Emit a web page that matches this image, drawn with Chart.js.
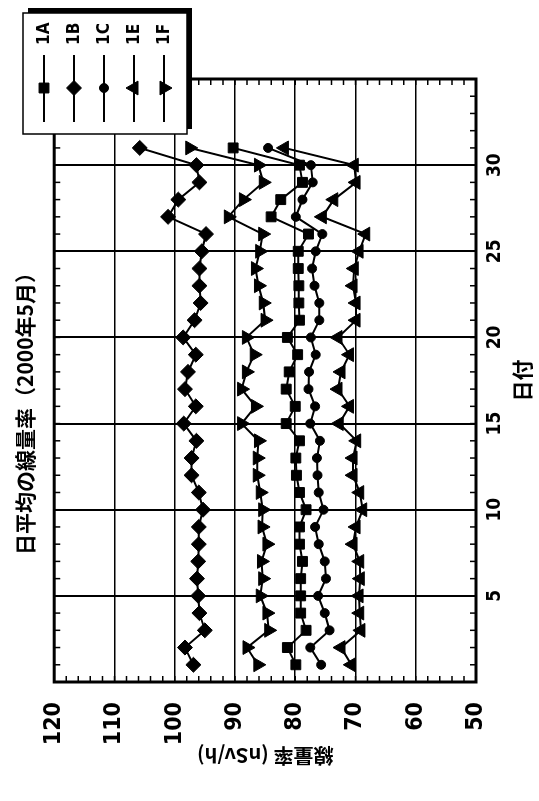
<!DOCTYPE html>
<html>
<head>
<meta charset="utf-8">
<title>日平均の線量率</title>
<script src="https://cdn.jsdelivr.net/npm/chart.js"></script>
<style>
  html, body { margin: 0; padding: 0; background: #fff; overflow: hidden; }
  /* the chart is laid out landscape and turned a quarter turn to stand in the page */
  #wrap {
    position: absolute; left: 0; top: 0;
    width: 801px; height: 539px;
    transform-origin: 0 0;
    transform: translateY(801px) rotate(-90deg);
  }
  canvas { display: block; }
</style>
</head>
<body>
<div id="wrap"><canvas id="myChart" width="801" height="539"></canvas></div>
<script>
const canvas = document.getElementById('myChart')

// daily means, May 2000 (nSv/h)
const days = [1, 2, 3, 4, 5, 6, 7, 8, 9, 10, 11, 12, 13, 14, 15, 16,
              17, 18, 19, 20, 21, 22, 23, 24, 25, 26, 27, 28, 29, 30, 31]
const labels = ['1A', '1B', '1C', '1E', '1F']
const post1A = [79.9, 81.3, 78.2, 79.1, 79.1, 79.1, 78.8, 79.3, 79.3, 78.2, 79.3,
                79.8, 79.9, 79.3, 81.5, 80.0, 81.5, 81.0, 79.6, 81.3, 79.3, 79.4,
                79.4, 79.5, 79.5, 77.8, 84.0, 82.4, 78.8, 79.3, 90.3]
const post1B = [96.9, 98.3, 95.0, 95.9, 96.1, 96.3, 96.1, 96.0, 96.0, 95.3, 96.0,
                97.2, 97.2, 96.4, 98.5, 96.5, 98.3, 97.8, 96.5, 98.6, 96.7, 95.7,
                95.9, 95.9, 95.5, 94.8, 101.1, 99.4, 95.9, 96.4, 105.8]
const post1C = [75.7, 77.5, 74.3, 75.1, 76.2, 74.9, 75.1, 76.1, 76.7, 75.3, 76.1,
                76.3, 76.4, 75.9, 77.5, 76.7, 77.8, 77.7, 76.6, 77.4, 76.0, 76.0,
                76.8, 77.2, 76.6, 75.5, 79.9, 78.8, 77.1, 77.4, 84.5]
const post1E = [70.7, 72.4, 69.1, 69.3, 69.4, 69.2, 69.3, 70.4, 69.9, 68.8, 69.3,
                70.4, 70.4, 69.8, 72.7, 71.0, 72.9, 72.4, 71.0, 72.9, 69.9, 69.9,
                70.4, 70.2, 69.4, 68.3, 75.5, 73.6, 69.9, 70.2, 81.8]
const post1F = [86.2, 88.0, 84.4, 84.7, 85.8, 85.4, 85.6, 84.7, 85.5, 85.4, 85.8,
                86.3, 86.3, 86.1, 88.9, 86.6, 88.9, 88.1, 86.8, 88.1, 85.0, 85.3,
                86.1, 86.6, 85.9, 85.4, 91.1, 88.6, 85.3, 86.1, 97.5]

const NARROW = '"Liberation Sans Narrow", "DejaVu Sans Condensed", "Liberation Sans", sans-serif'
const CJK = '"Noto Sans CJK JP", sans-serif'

Chart.defaults.color = '#000'
Chart.defaults.font.family = NARROW

function series(label, values, style, radius, rotation) {
    return {
        label,
        data: days.map((d, i) => ({x: d, y: values[i]})),
        borderColor: '#000',
        backgroundColor: '#000',
        borderWidth: 2,
        pointStyle: style,
        pointRadius: radius,
        pointRotation: rotation,
        pointBorderWidth: 1,
        tension: 0
    }
}

// minor ticks pointing inward on all four sides, plus the heavy frame
const frameTicks = {
    id: 'frameTicks',
    beforeDatasetsDraw(chart) {
        const {ctx, chartArea: a, scales: {x, y}} = chart
        ctx.save()
        ctx.strokeStyle = '#000'
        ctx.lineWidth = 1.5
        ctx.beginPath()
        for (let d = x.min; d <= x.max; d += 1) {
            const px = x.getPixelForValue(d)
            ctx.moveTo(px, a.bottom); ctx.lineTo(px, a.bottom - 6)
            ctx.moveTo(px, a.top); ctx.lineTo(px, a.top + 6)
        }
        for (let v = y.min; v <= y.max; v += 2) {
            const py = y.getPixelForValue(v)
            ctx.moveTo(a.left, py); ctx.lineTo(a.left + 6, py)
            ctx.moveTo(a.right, py); ctx.lineTo(a.right - 6, py)
        }
        ctx.stroke()
        ctx.lineWidth = 3
        ctx.strokeRect(a.left, a.top, a.right - a.left, a.bottom - a.top)
        ctx.restore()
    }
}

// boxed legend with drop shadow, drawn over the top right corner
const boxLegend = {
    id: 'boxLegend',
    afterDraw(chart) {
        const ctx = chart.ctx
        const left = 667, top = 23, w = 121, h = 164
        ctx.save()
        ctx.fillStyle = '#000'
        ctx.fillRect(left + 5, top + 5, w, h)
        ctx.fillStyle = '#fff'
        ctx.fillRect(left, top, w, h)
        ctx.strokeStyle = '#000'
        ctx.lineWidth = 1.5
        ctx.strokeRect(left, top, w, h)
        ctx.font = 'bold 17px ' + NARROW
        ctx.textBaseline = 'middle'
        chart.data.datasets.forEach((ds, i) => {
            const y = top + 21 + i * 30
            ctx.fillStyle = '#000'
            ctx.lineWidth = 2
            ctx.beginPath()
            ctx.moveTo(left + 12, y)
            ctx.lineTo(left + 79, y)
            ctx.stroke()
            ctx.lineWidth = 1
            Chart.helpers.drawPoint(ctx, {
                pointStyle: ds.pointStyle,
                radius: ds.pointRadius,
                rotation: ds.pointRotation,
                borderWidth: 1
            }, left + 46, y)
            ctx.fillText(ds.label, left + 89, y + 1)
        })
        ctx.restore()
    }
}

const config = {
    type: 'line',
    data: {
        datasets: [
            series(labels[0], post1A, 'rect', 7, 0),
            series(labels[1], post1B, 'rectRot', 7.5, 0),
            series(labels[2], post1C, 'circle', 4.5, 0),
            series(labels[3], post1E, 'triangle', 8, 0),
            series(labels[4], post1F, 'triangle', 8, 180)
        ]
    },
    options: {
        responsive: false,
        animation: false,
        layout: {
            padding: {left: 0, right: 16, top: 0, bottom: 0}
        },
        plugins: {
            legend: {display: false},
            tooltip: {enabled: false},
            title: {
                display: true,
                text: '日平均の線量率（2000年5月）',
                color: '#000',
                font: {family: CJK, size: 21, weight: 'bold'},
                padding: {top: 12, bottom: 17}
            }
        },
        scales: {
            x: {
                type: 'linear',
                position: 'bottom',
                min: 0,
                max: 35,
                afterFit(scale) { scale.height = 63 },
                ticks: {
                    stepSize: 5,
                    autoSkip: false,
                    maxRotation: 0,
                    padding: 8,
                    font: {size: 19, weight: 'bold'},
                    callback: v => (v === 0 || v === 35) ? '' : v
                },
                grid: {color: '#000', lineWidth: 2, drawTicks: false},
                border: {display: false},
                title: {
                    display: true,
                    text: '日付',
                    font: {family: CJK, size: 21, weight: 'bold'},
                    padding: {top: 0, bottom: 4}
                }
            },
            y: {
                type: 'linear',
                position: 'left',
                min: 50,
                max: 120,
                afterFit(scale) { scale.width = 119 },
                ticks: {
                    stepSize: 10,
                    padding: 20,
                    font: {size: 23, weight: 'bold'}
                },
                grid: {color: '#000', lineWidth: 1.5, drawTicks: false},
                border: {display: false},
                title: {
                    display: true,
                    text: '線量率 (nSv/h)',
                    font: {family: CJK, size: 20, weight: 'bold'},
                    padding: {top: 33, bottom: 0}
                }
            },
            yR: {
                type: 'linear',
                position: 'right',
                afterFit(scale) { scale.width = 63 },
                ticks: {display: false},
                grid: {display: false},
                border: {display: false}
            }
        }
    },
    plugins: [frameTicks, boxLegend]
}

const myChart = new Chart(canvas, config)
</script>
</body>
</html>
